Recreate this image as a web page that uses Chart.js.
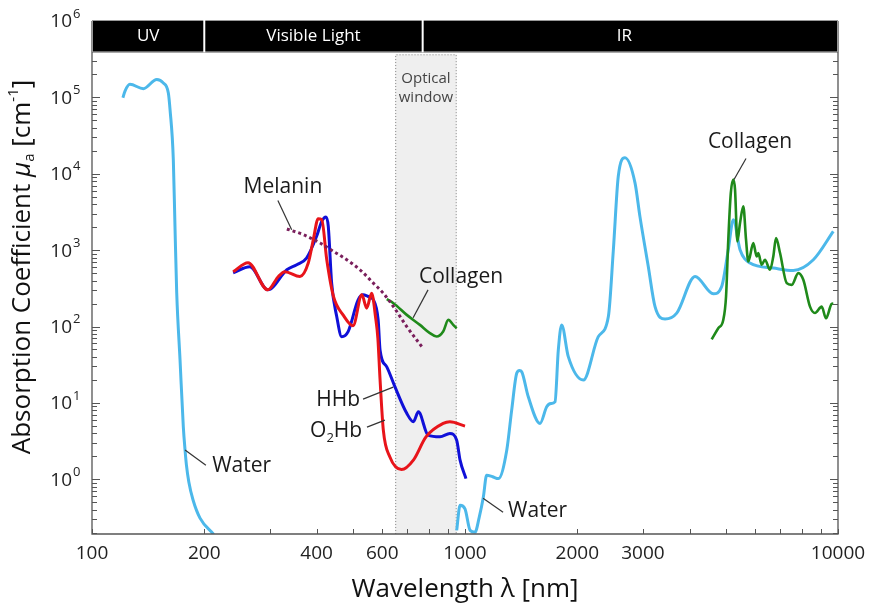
<!DOCTYPE html>
<html><head><meta charset="utf-8">
<script src="https://cdn.jsdelivr.net/npm/chart.js@4.4.0/dist/chart.umd.min.js"></script>
<style>html,body{margin:0;padding:0;background:#fff;}</style>
</head><body>
<canvas id="c" width="871" height="610"></canvas>
<script>
// ---------- data (wavelength in nm, absorption coefficient in cm^-1) ----------
const waterUVnm  = [121, 122.6, 126.4, 137.3, 149.2, 155.2, 160.2, 161.9, 165.2, 166.9, 168.7, 172.2, 175.7, 177.6, 179.1, 181.8, 186.6, 194.8, 212];
const waterUVabs = [99000, 121000, 148000, 130000, 172000, 155000, 114500, 69200, 15300, 2045, 276, 36.6, 4.89, 2.42, 1.54, 0.92, 0.535, 0.31, 0.19];

const waterIRnm  = [950, 970, 1000, 1032, 1064, 1092, 1120, 1143, 1185, 1229, 1294, 1334, 1376, 1400, 1419, 1478, 1589, 1656, 1700, 1743, 1779, 1816, 1892, 2076, 2277, 2423, 2499, 2576, 2685, 2856, 2944, 3100, 3232, 3438, 3695, 4138, 4632, 4877, 5080, 5240, 5462, 5808, 6707, 7590, 8588, 9714];
const waterIRabs = [0.214, 0.456, 0.41, 0.214, 0.203, 0.32, 0.586, 1.13, 1.08, 1.02, 2.4, 8.05, 24.4, 26.6, 25.6, 12, 5.38, 8.89, 9.8, 10.3, 49.3, 105, 40.3, 19.9, 73.7, 135, 1012, 9268, 16170, 7596, 2768, 611, 182, 125, 149.5, 452, 268, 334, 1012, 2506, 1012, 677, 582, 542, 748, 1759];

const hhbNm  = [239, 265, 296, 333, 354, 376, 400, 413, 424, 430, 439, 453, 467, 486, 517, 533, 550, 568, 585, 592, 617, 649, 698, 727, 750, 796, 857, 911, 950, 970, 1006];
const hhbAbs = [505, 606, 302, 553, 643, 787, 1514, 2381, 2718, 2047, 370, 135, 73.7, 85.8, 223, 260, 247, 223, 122, 49, 29.6, 16.2, 7.3, 5.66, 7.64, 3.78, 3.59, 3.97, 3.25, 1.78, 1.02];

const o2hbNm  = [239, 262, 296, 316, 329, 361, 380, 392, 404, 413, 426, 444, 471, 501, 529, 545, 562, 576, 584, 592, 604, 629, 676, 727, 786, 874, 911, 1000];
const o2hbAbs = [521, 686, 302, 452, 521, 452, 678, 1368, 2583, 2506, 748, 247, 142, 102, 260, 174, 273, 130, 70, 20, 4.4, 1.96, 1.34, 1.78, 3.59, 5.38, 5.66, 4.97];

const melaninNm  = [333, 369, 409, 444, 482, 523, 568, 604, 643, 698, 766];
const melaninAbs = [1892, 1592, 1239, 962, 748, 553, 370, 273, 182, 99.7, 54.5];

const collagenVisNm  = [617, 643, 698, 757, 805, 839, 874, 902, 930, 950];
const collagenVisAbs = [228, 202, 142, 105, 82, 74, 86, 122, 105, 95];

const collagenIRnm  = [4585, 4775, 4925, 5010, 5080, 5160, 5240, 5296, 5372, 5462, 5574, 5668, 5749, 5929, 6053, 6113, 6244, 6370, 6573, 6707, 6822, 6992, 7287, 7516, 7827, 8072, 8413, 8676, 9043, 9287, 9617, 9714];
const collagenIRabs = [68, 95, 122, 247, 1368, 5610, 8395, 6207, 1300, 2268, 3748, 1368, 711, 1239, 827, 916, 643, 748, 553, 827, 1442, 916, 370, 351, 500, 409, 182, 150, 182, 128, 198, 200];

// axis ticks / regions
const xTickLabels = [100, 200, 400, 600, 1000, 2000, 3000, 10000];
const yTickExponents = [0, 1, 2, 3, 4, 5, 6];
const bandEdges = [100, 200, 770, 10000];
const bandNames = ['UV', 'Visible Light', 'IR'];
const opticalWindow = [650, 950];

// ---------- chart ----------
const FONT = "'Open Sans', 'DejaVu Sans', sans-serif";
const pts = (xs, ys) => xs.map((x, i) => ({x: x, y: ys[i]}));

function richWidth(ctx, parts) {
  let w = 0;
  for (const p of parts) { ctx.font = (p.italic ? 'italic ' : '') + p.size + 'px ' + FONT; w += ctx.measureText(p.t).width; }
  return w;
}
function drawRich(ctx, parts, x, y, align) {
  const w = richWidth(ctx, parts);
  let cx = align === 'center' ? x - w / 2 : (align === 'right' ? x - w : x);
  ctx.textAlign = 'left';
  ctx.textBaseline = 'middle';
  for (const p of parts) {
    ctx.font = (p.italic ? 'italic ' : '') + p.size + 'px ' + FONT;
    ctx.fillText(p.t, cx, y + (p.dy || 0));
    cx += ctx.measureText(p.t).width;
  }
}

const deco = {
  id: 'deco',
  beforeDatasetsDraw(chart) {
    const {ctx, chartArea: a, scales: {x, y}} = chart;
    const yb = y.getPixelForValue(Math.pow(10, 5.59)) + 2;
    const x0 = x.getPixelForValue(opticalWindow[0]), x1 = x.getPixelForValue(opticalWindow[1]);
    ctx.save();
    ctx.fillStyle = '#efefef';
    ctx.fillRect(x0, yb, x1 - x0, a.bottom - yb);
    ctx.strokeStyle = '#8a8a8a'; ctx.lineWidth = 1; ctx.setLineDash([1, 2]);
    ctx.beginPath();
    ctx.moveTo(x0 + 0.5, a.bottom); ctx.lineTo(x0 + 0.5, yb + 0.5); ctx.lineTo(x1 - 0.5, yb + 0.5); ctx.lineTo(x1 - 0.5, a.bottom);
    ctx.stroke();
    ctx.setLineDash([]);
    ctx.fillStyle = '#444';
    ctx.font = '15px ' + FONT; ctx.textAlign = 'center'; ctx.textBaseline = 'middle';
    const xc = (x0 + x1) / 2;
    ctx.fillText('Optical', xc, yb + 24);
    ctx.fillText('window', xc, yb + 43);
    ctx.restore();
  },
  afterDatasetsDraw(chart) {
    const {ctx, chartArea: a, scales: {x, y}} = chart;
    const yb = y.getPixelForValue(Math.pow(10, 5.59));
    ctx.save();
    // frame
    ctx.strokeStyle = '#555'; ctx.lineWidth = 1.3;
    ctx.beginPath();
    ctx.moveTo(a.left, a.top); ctx.lineTo(a.left, a.bottom); ctx.lineTo(a.right, a.bottom); ctx.lineTo(a.right, a.top);
    ctx.stroke();
    // y ticks
    ctx.lineWidth = 1;
    for (let e = -1; e <= 6; e++) {
      for (let m = 1; m <= 9; m++) {
        const v = m * Math.pow(10, e);
        if (v < y.min || v > y.max) continue;
        const py = Math.round(y.getPixelForValue(v)) + 0.5;
        const len = m === 1 ? 8 : 5;
        ctx.beginPath();
        ctx.moveTo(a.left, py); ctx.lineTo(a.left + len, py);
        ctx.moveTo(a.right, py); ctx.lineTo(a.right - len, py);
        ctx.stroke();
      }
    }
    // x ticks
    for (let e = 2; e <= 4; e++) {
      for (let m = 1; m <= 9; m++) {
        const v = m * Math.pow(10, e);
        if (v < x.min || v > x.max) continue;
        const px = Math.round(x.getPixelForValue(v)) + 0.5;
        ctx.beginPath(); ctx.moveTo(px, a.bottom); ctx.lineTo(px, a.bottom - 5); ctx.stroke();
      }
    }
    // tick labels
    ctx.fillStyle = '#222';
    ctx.font = '19px ' + FONT; ctx.textAlign = 'center'; ctx.textBaseline = 'middle';
    for (const t of xTickLabels) ctx.fillText(String(t), x.getPixelForValue(t), a.bottom + 20);
    for (const e of yTickExponents) {
      const py = y.getPixelForValue(Math.pow(10, e));
      ctx.font = '19px ' + FONT; ctx.textAlign = 'right'; ctx.textBaseline = 'middle';
      ctx.fillText('10', 72, py + 1);
      ctx.font = '13px ' + FONT; ctx.textAlign = 'left';
      ctx.fillText(String(e), 73, py - 7);
    }
    // axis titles
    ctx.fillStyle = '#111';
    drawRich(ctx, [{t: 'Wavelength λ [nm]', size: 26}], (a.left + a.right) / 2, 590, 'center');
    ctx.save();
    ctx.translate(23, 267); ctx.rotate(-Math.PI / 2);
    drawRich(ctx, [
      {t: 'Absorption Coefficient ', size: 26},
      {t: 'μ', size: 26, italic: true},
      {t: 'a', size: 15, dy: 7},
      {t: ' [cm', size: 26},
      {t: '-1', size: 15, dy: -9},
      {t: ']', size: 26}
    ], 0, 0, 'center');
    ctx.restore();
    // top band
    const bt = a.top - 1;
    ctx.fillStyle = '#000';
    ctx.fillRect(a.left, bt, a.right - a.left, yb - bt);
    ctx.strokeStyle = '#999'; ctx.lineWidth = 1;
    ctx.strokeRect(a.left + 0.5, bt + 0.5, a.right - a.left - 1, yb - bt - 1);
    ctx.strokeStyle = '#fff'; ctx.lineWidth = 2;
    for (let i = 1; i < bandEdges.length - 1; i++) {
      const px = x.getPixelForValue(bandEdges[i]);
      ctx.beginPath(); ctx.moveTo(px, bt); ctx.lineTo(px, yb); ctx.stroke();
    }
    ctx.fillStyle = '#fff'; ctx.font = '17px ' + FONT; ctx.textAlign = 'center'; ctx.textBaseline = 'middle';
    for (let i = 0; i < bandNames.length; i++) {
      const c = Math.sqrt(bandEdges[i] * bandEdges[i + 1]);
      ctx.fillText(bandNames[i], x.getPixelForValue(c) - (i === 2 ? 6 : 0), (bt + yb) / 2);
    }
    // annotations (anchored in data coordinates)
    const P = (l, v) => [x.getPixelForValue(l), y.getPixelForValue(v)];
    const notes = [
      {parts: [{t: 'Melanin', size: 21}], at: [325, 6790], align: 'center', line: [[315, 4450], [343, 1853]]},
      {parts: [{t: 'Collagen', size: 21}], at: [976, 448], align: 'center', line: [[796, 302], [726, 130]]},
      {parts: [{t: 'HHb', size: 21}], at: [523, 10.9], align: 'right', line: [[533, 11.2], [642, 16.1]]},
      {parts: [{t: 'O', size: 21}, {t: '2', size: 13, dy: 7}, {t: 'Hb', size: 21}], at: [530, 4.27], align: 'right', line: [[546, 4.82], [610, 5.95]]},
      {parts: [{t: 'Water', size: 21}], at: [210, 1.48], align: 'left', line: [[177.6, 2.42], [202, 1.53]]},
      {parts: [{t: 'Water', size: 21}], at: [1305, 0.38], align: 'left', line: [[1118, 0.563], [1265, 0.369]]},
      {parts: [{t: 'Collagen', size: 21}], at: [5808, 25650], align: 'center', line: [[5263, 8390], [5668, 15820]]}
    ];
    ctx.strokeStyle = '#333'; ctx.lineWidth = 1.2;
    ctx.fillStyle = '#1a1a1a';
    for (const n of notes) {
      const p0 = P(n.line[0][0], n.line[0][1]), p1 = P(n.line[1][0], n.line[1][1]);
      ctx.beginPath(); ctx.moveTo(p0[0], p0[1]); ctx.lineTo(p1[0], p1[1]); ctx.stroke();
      const t = P(n.at[0], n.at[1]);
      drawRich(ctx, n.parts, t[0], t[1], n.align);
    }
    ctx.restore();
  }
};

const common = {pointRadius: 0, fill: false, cubicInterpolationMode: 'monotone', borderWidth: 3};
new Chart(document.getElementById('c'), {
  type: 'line',
  data: {
    datasets: [
      Object.assign({}, common, {label: 'Melanin', data: pts(melaninNm, melaninAbs), borderColor: '#7a1f5c', borderDash: [3, 3], borderWidth: 3, order: 0}),
      Object.assign({}, common, {label: 'O2Hb', data: pts(o2hbNm, o2hbAbs), borderColor: '#e8141a', order: 1}),
      Object.assign({}, common, {label: 'HHb', data: pts(hhbNm, hhbAbs), borderColor: '#1010d8', order: 2}),
      Object.assign({}, common, {label: 'Collagen', data: pts(collagenVisNm, collagenVisAbs), borderColor: '#1f8a1a', borderWidth: 2.6, order: 1}),
      Object.assign({}, common, {label: 'Collagen IR', data: pts(collagenIRnm, collagenIRabs), borderColor: '#1f8a1a', borderWidth: 2.6, order: 1}),
      Object.assign({}, common, {label: 'Water UV', data: pts(waterUVnm, waterUVabs), borderColor: '#4cb8ea', order: 3}),
      Object.assign({}, common, {label: 'Water IR', data: pts(waterIRnm, waterIRabs), borderColor: '#4cb8ea', order: 3})
    ]
  },
  options: {
    responsive: false,
    animation: false,
    devicePixelRatio: 1,
    layout: {padding: {left: 92, right: 33, top: 21, bottom: 76}},
    plugins: {legend: {display: false}, tooltip: {enabled: false}},
    scales: {
      x: {type: 'logarithmic', min: 100, max: 10000, display: false},
      y: {type: 'logarithmic', min: 0.192, max: 1e6, display: false}
    }
  },
  plugins: [deco]
});
</script>
</body></html>
